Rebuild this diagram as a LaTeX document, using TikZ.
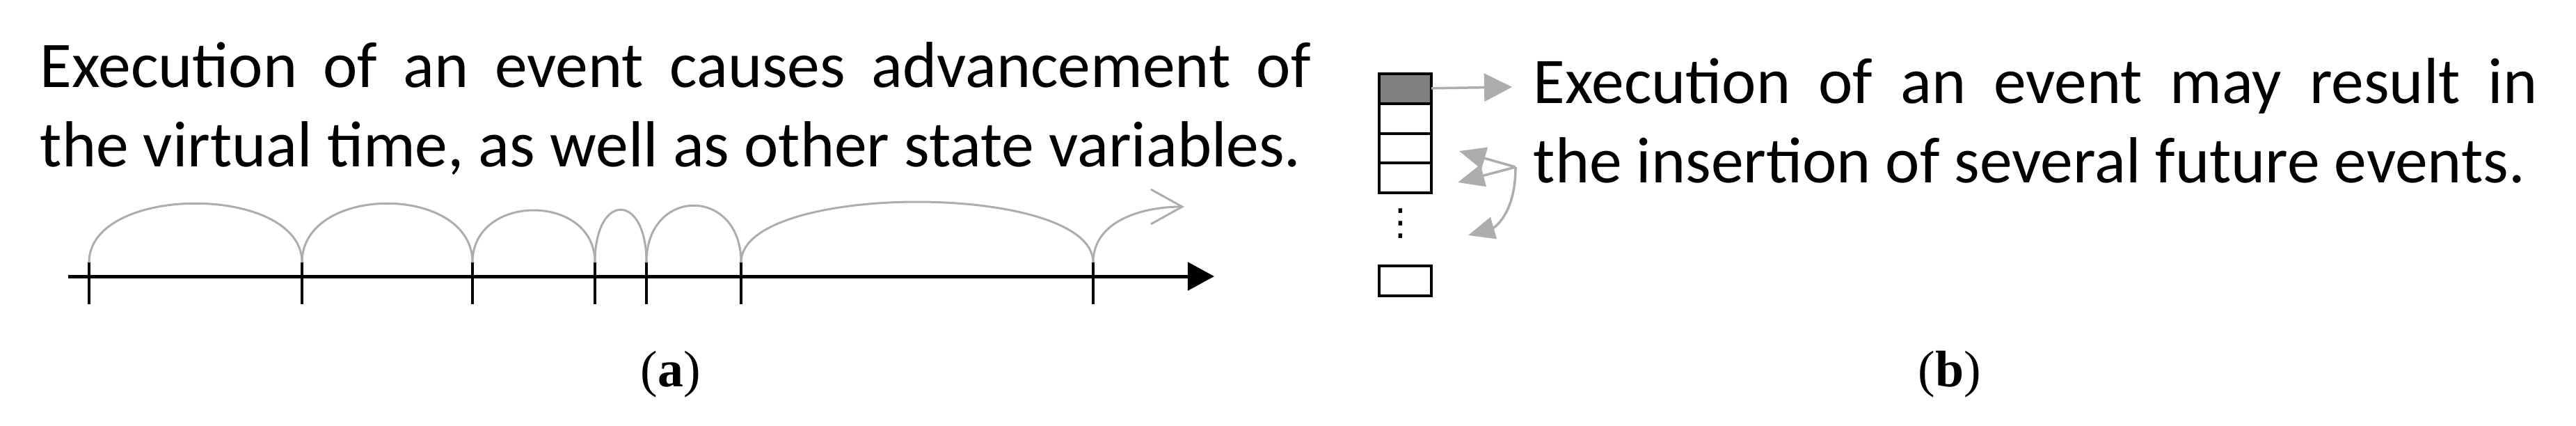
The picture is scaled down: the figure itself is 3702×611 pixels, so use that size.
\documentclass[tikz,border=0pt]{standalone}
\usepackage{fontspec}
\setmainfont{Carlito}
\newfontfamily\capfont{Liberation Serif}
\newfontfamily\symfont{DejaVu Sans}
\usetikzlibrary{arrows.meta,positioning}
\definecolor{arcgray}{rgb}{0.68,0.68,0.68}
\definecolor{boxgray}{rgb}{0.50,0.50,0.50}

\tikzset{
  axisline/.style={line width=0.05cm,-{Triangle[length=0.38cm,width=0.40cm]}},
  tickline/.style={line width=0.04cm},
  hop/.style={arcgray,line width=0.03cm},
  qbox/.style={draw,line width=0.04cm,minimum width=0.75cm,minimum height=0.4275cm,inner sep=0pt,outer sep=0pt},
  insarrow/.style={arcgray,line width=0.035cm,-{Triangle[length=0.38cm,width=0.32cm]}},
  desc/.style={anchor=base west,inner sep=0pt,font=\fontsize{26.6}{32.4}\selectfont},
  caption/.style={anchor=base,inner sep=0pt,font=\capfont\fontsize{21}{25}\selectfont}
}

\begin{document}
\begin{tikzpicture}[x=0.01cm,y=-0.01cm]
\useasboundingbox (0,0) rectangle (3702,611);

% (a) virtual time line
\node[desc] (texta1) at (57,125) {\makebox[18.25cm][s]{Execution of an event causes advancement of}};
\node[desc] (texta2) at (57,239) {the virtual time, as well as other state variables.};

\coordinate (axstart) at (98,397);
\coordinate (axend) at (1745,397);
\coordinate (t1) at (128,377);
\coordinate (t2) at (434,377);
\coordinate (t3) at (679,377);
\coordinate (t4) at (855,377);
\coordinate (t5) at (929,377);
\coordinate (t6) at (1065,377);
\coordinate (t7) at (1571,377);
\coordinate (tnext) at (1702,297);

\draw[axisline] (axstart) -- (axend);
\draw[tickline] (t1) -- ++(0,60);
\draw[tickline] (t2) -- ++(0,60);
\draw[tickline] (t3) -- ++(0,60);
\draw[tickline] (t4) -- ++(0,60);
\draw[tickline] (t5) -- ++(0,60);
\draw[tickline] (t6) -- ++(0,60);
\draw[tickline] (t7) -- ++(0,60);

\draw[hop] (t1) .. controls +(0,-113) and +(0,-113) .. (t2);
\draw[hop] (t2) .. controls +(0,-113) and +(0,-113) .. (t3);
\draw[hop] (t3) .. controls +(0,-100) and +(0,-100) .. (t4);
\draw[hop] (t4) .. controls +(0,-101) and +(0,-101) .. (t5);
\draw[hop] (t5) .. controls +(0,-109) and +(0,-109) .. (t6);
\draw[hop] (t6) .. controls +(0,-116) and +(0,-116) .. (t7);
\draw[hop,-{Straight Barb[length=0.45cm,width=0.5cm]}] (t7) .. controls +(0,-60) and +(-60,0) .. (tnext);

\node[caption] (capa) at (964,555) {(\textbf{a})};

% (b) future event list
\node[qbox,fill=boxgray] (ev1) at (2019.5,127.4) {};
\node[qbox,below=0cm of ev1] (ev2) {};
\node[qbox,below=0cm of ev2] (ev3) {};
\node[qbox,below=0cm of ev3] (ev4) {};
\node[qbox,below=1.05cm of ev4] (evn) {};
\node[inner sep=0pt,font=\symfont\fontsize{15}{15}\selectfont] (more) at (2013,321) {⋮};

\coordinate (outev) at (2173,125);
\coordinate (ins) at (2178,240);
\coordinate (ins1) at (2097,217);
\coordinate (ins2) at (2095,262);
\coordinate (ins3) at (2110,338);

\draw[insarrow,-{Triangle[length=0.40cm,width=0.40cm]}] (ev1) -- (outev);
\draw[insarrow] (ins) -- (ins1);
\draw[insarrow] (ins) -- (ins2);
\draw[insarrow] (ins) .. controls +(0,70) and +(35,-10) .. (ins3);

\node[desc] (textb1) at (2203,148) {\makebox[14.42cm][s]{Execution of an event may result in}};
\node[desc] (textb2) at (2203,262) {the insertion of several future events.};

\node[caption] (capb) at (2802,555) {(\textbf{b})};
\end{tikzpicture}
\end{document}
